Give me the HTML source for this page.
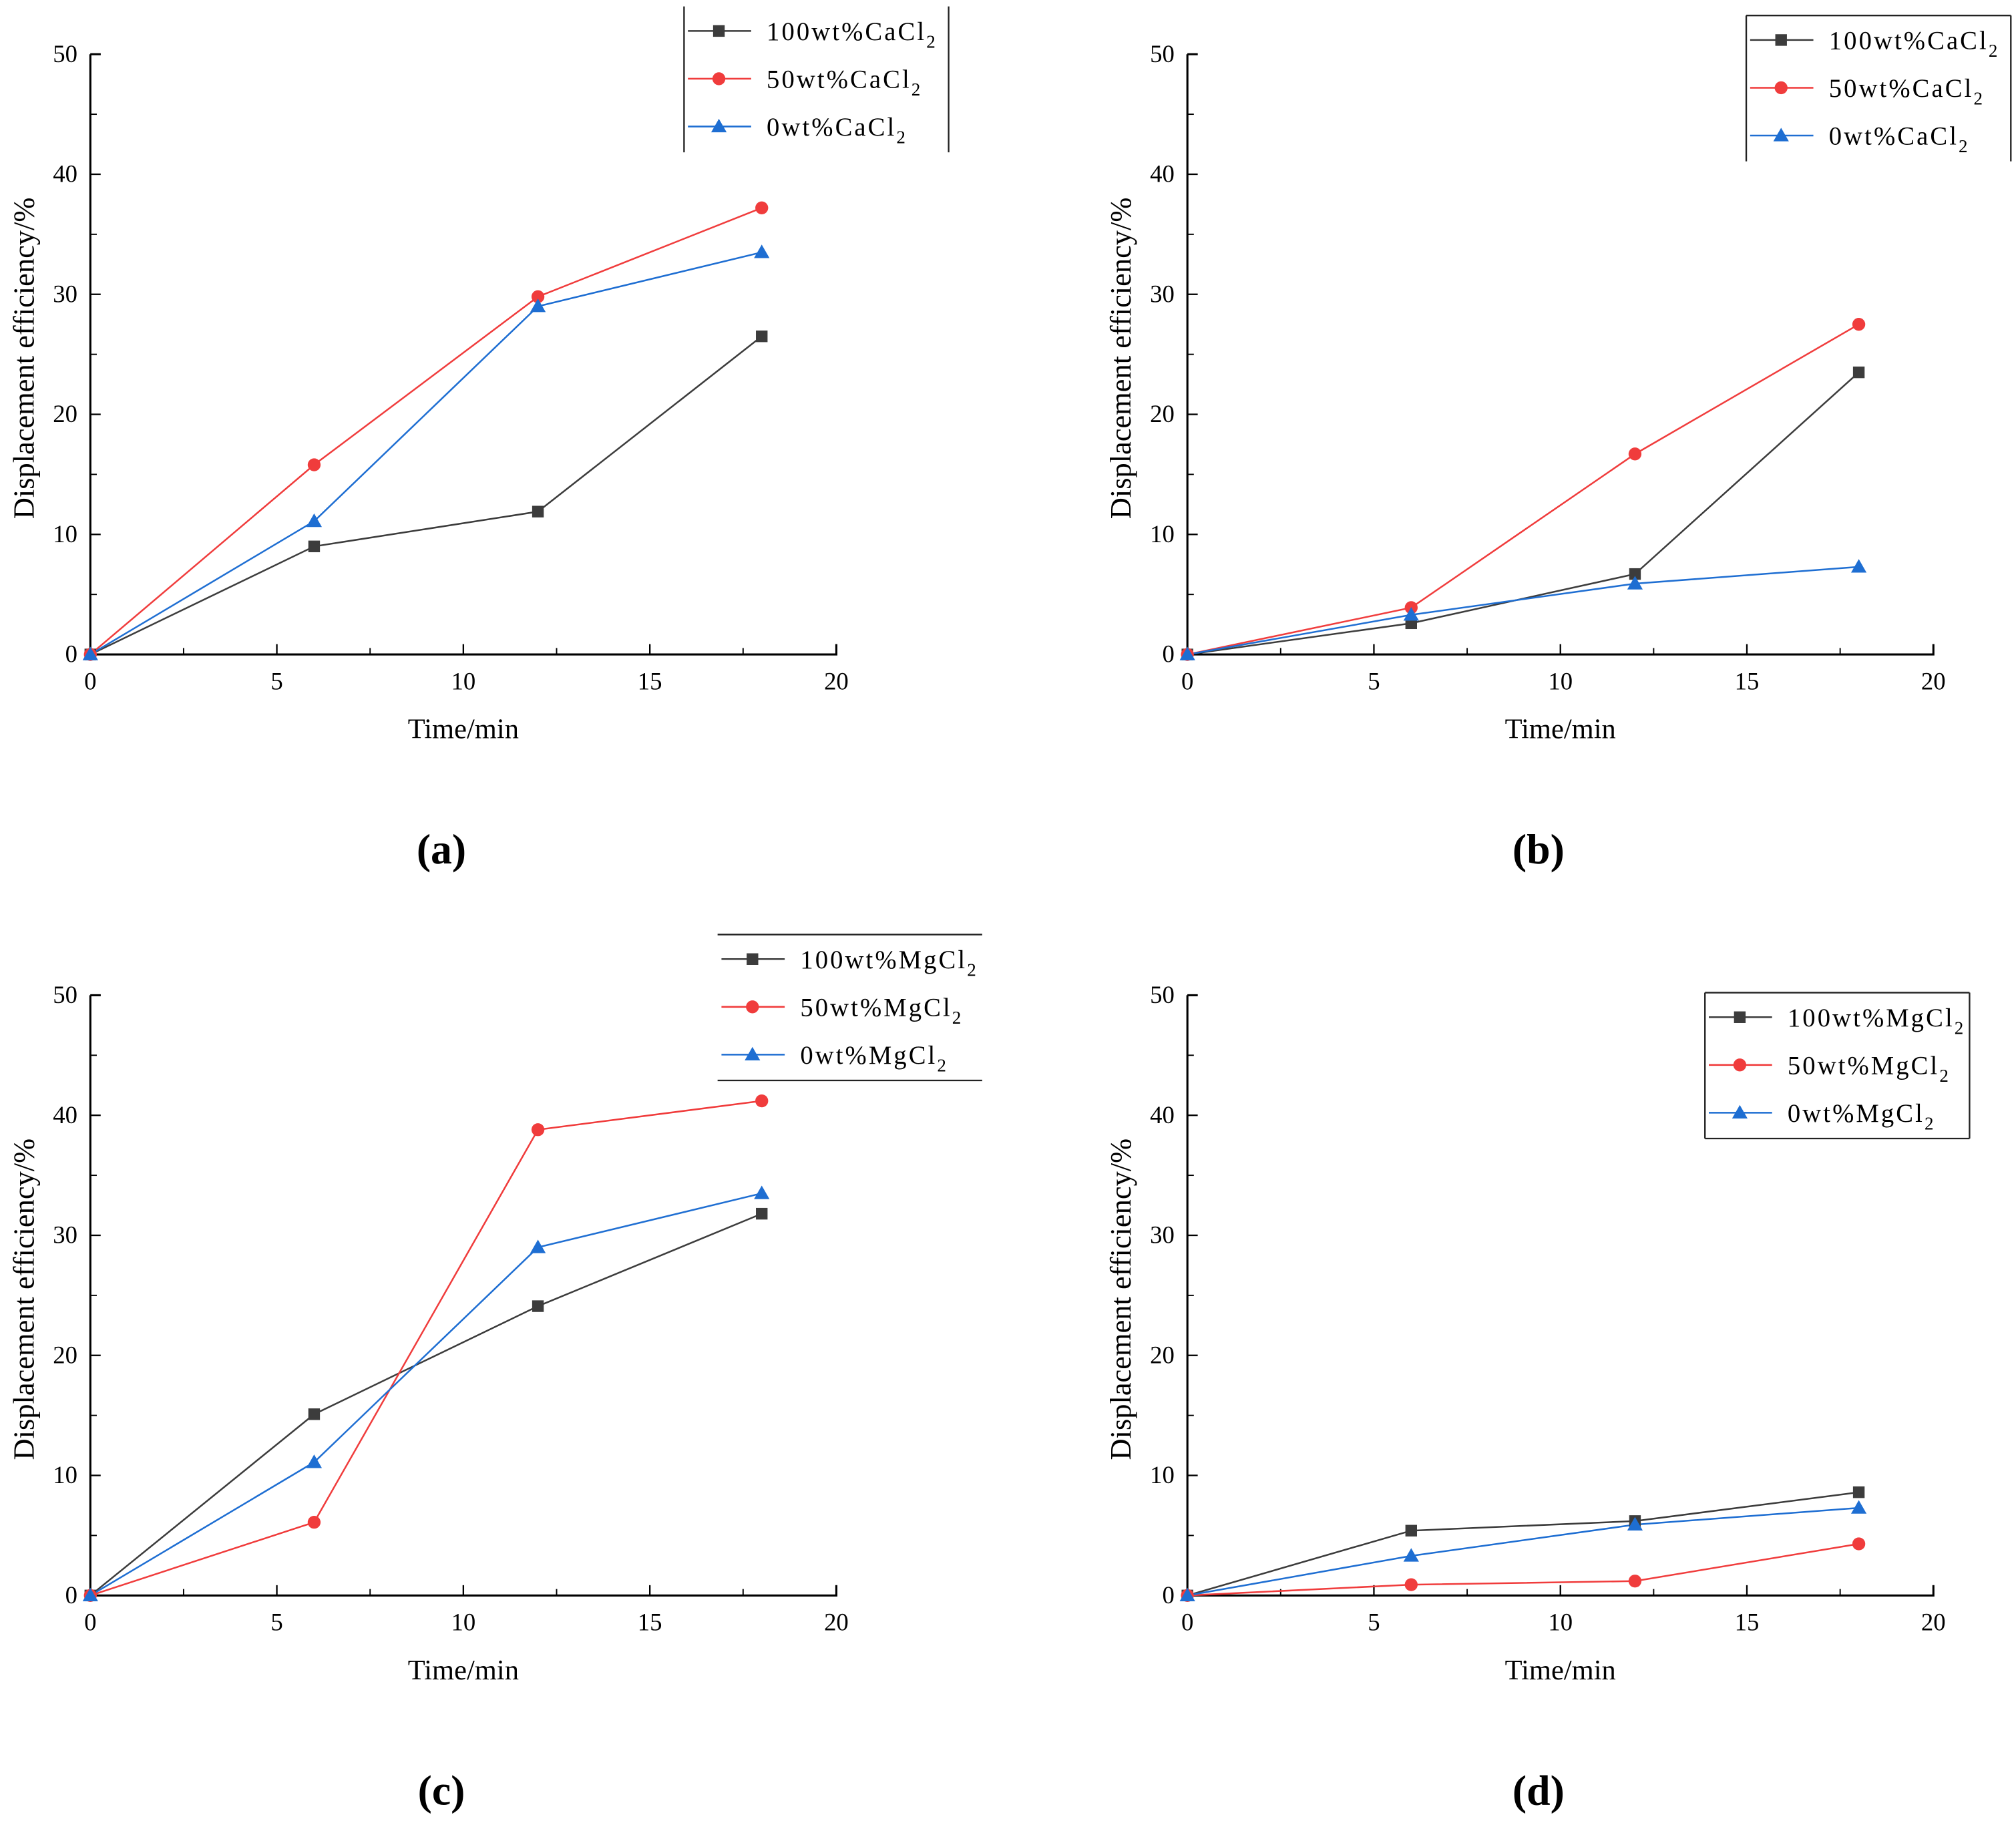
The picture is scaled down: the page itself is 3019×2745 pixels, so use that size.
<!DOCTYPE html>
<html><head><meta charset="utf-8"><style>
html,body{margin:0;padding:0;background:#fff;}
svg{display:block;}
text{font-family:"Liberation Serif",serif;}
</style></head>
<body>
<svg id="fig" width="3019" height="2745" viewBox="0 0 1562 1420" preserveAspectRatio="none" xmlns="http://www.w3.org/2000/svg"></svg>
<script>
const times = [0, 6, 12, 18];
const xTicks = [0, 5, 10, 15, 20];
const yTicks = [0, 10, 20, 30, 40, 50];
const aBlack = [0, 9.0, 11.9, 26.5];
const aRed = [0, 15.8, 29.8, 37.2];
const aBlue = [0, 11.1, 29.0, 33.5];
const bBlack = [0, 2.6, 6.7, 23.5];
const bRed = [0, 3.9, 16.7, 27.5];
const bBlue = [0, 3.3, 5.9, 7.3];
const cBlack = [0, 15.1, 24.1, 31.8];
const cRed = [0, 6.1, 38.8, 41.2];
const cBlue = [0, 11.1, 29.0, 33.5];
const dBlack = [0, 5.4, 6.2, 8.6];
const dRed = [0, 0.9, 1.2, 4.3];
const dBlue = [0, 3.3, 5.9, 7.3];
const labelsCa = ["100wt%CaCl", "50wt%CaCl", "0wt%CaCl"];
const labelsMg = ["100wt%MgCl", "50wt%MgCl", "0wt%MgCl"];

const NS = "http://www.w3.org/2000/svg";
const svg = document.getElementById("fig");
function el(tag, attrs, parent) {
  const e = document.createElementNS(NS, tag);
  for (const k in attrs) e.setAttribute(k, attrs[k]);
  (parent || svg).appendChild(e);
  return e;
}
const COLORS = ["#3c3c3c", "#f03c3c", "#1e6ed2"];
const SERIES_NAMES = ["series-100wt", "series-50wt", "series-0wt"];

function marker(g, kind, x, y, color) {
  let m;
  if (kind === 0) m = el("rect", {x: x - 4.5, y: y - 4.5, width: 9, height: 9, fill: color}, g);
  else if (kind === 1) m = el("circle", {cx: x, cy: y, r: 5, fill: color}, g);
  else m = el("polygon", {points: `${x},${y - 6} ${x + 6},${y + 4.5} ${x - 6},${y + 4.5}`, fill: color}, g);
  
  
}

function panel(name, ox, oy, series, labels, tag, leg) {
  const g = el("g", {});
  
  
  const L = ox, R = ox + 578, T = oy, B = oy + 465;
  const sx = v => L + (v / 20) * (R - L);
  const sy = v => B - (v / 50) * (B - T);
  const ax = el("path", {d: `M${L},${T} L${L},${B} L${R},${B} L${R},${B - 8}`, fill: "none", stroke: "#000", "stroke-width": 1.6}, g);
  
  
  el("line", {x1: L, y1: T, x2: L + 8, y2: T, stroke: "#000", "stroke-width": 1.6}, g);
  xTicks.forEach(v => {
    el("line", {x1: sx(v), y1: B, x2: sx(v), y2: B - 8, stroke: "#000", "stroke-width": 1.2}, g);
    if (v < 20) el("line", {x1: sx(v + 2.5), y1: B, x2: sx(v + 2.5), y2: B - 5, stroke: "#000", "stroke-width": 1}, g);
    const t = el("text", {x: sx(v), y: B + 27, "font-size": 19, "text-anchor": "middle"}, g);
    t.textContent = v;
    
    
  });
  yTicks.forEach(v => {
    el("line", {x1: L, y1: sy(v), x2: L + 8, y2: sy(v), stroke: "#000", "stroke-width": 1.2}, g);
    if (v < 50) el("line", {x1: L, y1: sy(v + 5), x2: L + 5, y2: sy(v + 5), stroke: "#000", "stroke-width": 1}, g);
    const t = el("text", {x: L - 10, y: sy(v) + 6, "font-size": 19, "text-anchor": "end"}, g);
    t.textContent = v;
    
    
  });
  const xt = el("text", {x: (L + R) / 2, y: B + 65, "font-size": 22, "text-anchor": "middle"}, g);
  xt.textContent = "Time/min";
  
  
  const yt = el("text", {x: 0, y: 0, "font-size": 23, "text-anchor": "middle", transform: `translate(${L - 44},${(T + B) / 2 + 3}) rotate(-90)`}, g);
  yt.textContent = "Displacement efficiency/%";
  
  
  const cap = el("text", {x: (L + R) / 2 - 17, y: B + 162, "font-size": 33, "font-weight": "bold", "text-anchor": "middle"}, g);
  cap.textContent = tag;
  
  
  series.forEach((vals, k) => {
    const sg = el("g", {}, g);
    
    
    const pts = vals.map((v, i) => `${sx(times[i])},${sy(v)}`).join(" ");
    el("polyline", {points: pts, fill: "none", stroke: COLORS[k], "stroke-width": 1.3}, sg);
  });
  series.forEach((vals, k) => {
    vals.forEach((v, i) => marker(g, k, sx(times[i]), sy(v), COLORS[k]));
  });
  const lg = el("g", {}, g);
  
  
  const bx = leg.x, by = leg.y, bw = 205, bh = 113;
  leg.sides.forEach(s => {
    let a;
    if (s === "l") a = [bx, by, bx, by + bh];
    if (s === "r") a = [bx + bw, by, bx + bw, by + bh];
    if (s === "t") a = [bx, by, bx + bw, by];
    if (s === "b") a = [bx, by + bh, bx + bw, by + bh];
    el("line", {x1: a[0], y1: a[1], x2: a[2], y2: a[3], stroke: "#222", "stroke-width": 1.2}, lg);
  });
  labels.forEach((lab, k) => {
    const yy = by + 19 + k * 37;
    const ent = el("g", {}, lg);
    
    
    el("line", {x1: bx + 3, y1: yy, x2: bx + 52, y2: yy, stroke: COLORS[k], "stroke-width": 1.3}, ent);
    marker(ent, k, bx + 27, yy, COLORS[k]);
    const t = el("text", {x: bx + 64, y: yy + 7, "font-size": 20, "letter-spacing": "1.6"}, ent);
    t.textContent = lab;
    const sub = el("tspan", {dy: 6, "font-size": 14}, t);
    sub.textContent = "2";
  });
}

panel("panel-a", 70, 42, [aBlack, aRed, aBlue], labelsCa, "(a)", {x: 530, y: 5, sides: ["l", "r"]});
panel("panel-b", 920, 42, [bBlack, bRed, bBlue], labelsCa, "(b)", {x: 1353, y: 12, sides: ["l", "r", "t"]});
panel("panel-c", 70, 771, [cBlack, cRed, cBlue], labelsMg, "(c)", {x: 556, y: 724, sides: ["t", "b"]});
panel("panel-d", 920, 771, [dBlack, dRed, dBlue], labelsMg, "(d)", {x: 1321, y: 769, sides: ["l", "r", "t", "b"]});
</script>
</body></html>
